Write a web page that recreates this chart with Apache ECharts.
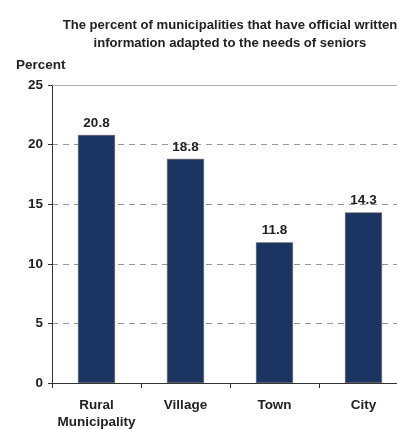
<!DOCTYPE html>
<html><head><meta charset="utf-8">
<script src="https://cdn.jsdelivr.net/npm/echarts@6/dist/echarts.min.js"></script>
<style>html,body{margin:0;padding:0;background:#fff;overflow:hidden;width:397px;height:429px}#c{width:410px;height:429px}</style>
</head><body><div id="c"></div>
<script>
const categories = ['Rural\nMunicipality', 'Village', 'Town', 'City'];
const values = [20.8, 18.8, 11.8, 14.3];
const yTicks = [0, 5, 10, 15, 20, 25];

const chart = echarts.init(document.getElementById('c'), null, {renderer: 'canvas'});
const font = 'Liberation Sans, Arial, sans-serif';
const fs = 13.5;
const yMax = yTicks[yTicks.length - 1];
chart.setOption({
  animation: false,
  title: {
    text: 'The percent of municipalities that have official written\ninformation adapted to the needs of seniors',
    left: 225, top: 11, textAlign: 'center',
    textStyle: {fontFamily: font, fontSize: 13.1, fontWeight: 'bold', color: '#222', lineHeight: 18}
  },
  graphic: [{type: 'text', left: 16, top: 58, style: {text: 'Percent', font: 'bold ' + fs + 'px ' + font, fill: '#222'}}],
  grid: {left: 52, top: 85, width: 356, height: 298, containLabel: false, outerBoundsMode: 'none'},
  xAxis: {
    type: 'category', data: categories,
    axisLine: {lineStyle: {color: '#333', width: 1}},
    axisTick: {show: true, interval: 0, length: 5, lineStyle: {color: '#333'}},
    axisLabel: {interval: 0, fontFamily: font, fontSize: fs, fontWeight: 'bold', color: '#222', margin: 14, lineHeight: 17}
  },
  yAxis: {
    type: 'value', min: yTicks[0], max: yMax, interval: 5,
    axisLine: {show: true, lineStyle: {color: '#333', width: 1}},
    axisTick: {show: true, length: 4, lineStyle: {color: '#333'}},
    axisLabel: {fontFamily: font, fontSize: fs, fontWeight: 'bold', color: '#222', margin: 9},
    splitLine: {show: true, lineStyle: {color: '#999', type: [6, 5], width: 1}}
  },
  series: [{
    type: 'bar', data: values, barWidth: '41.5%',
    itemStyle: {color: '#1c3461', borderColor: '#555', borderWidth: 0.6},
    label: {show: true, position: 'top', distance: 5, fontFamily: font, fontSize: fs, fontWeight: 'bold', color: '#222', formatter: p => p.value.toFixed(1)},
    markLine: {silent: true, symbol: 'none', label: {show: false},
      lineStyle: {color: '#aaa', type: 'solid', width: 1},
      data: [{yAxis: yMax}]}
  }]
});
</script></body></html>
